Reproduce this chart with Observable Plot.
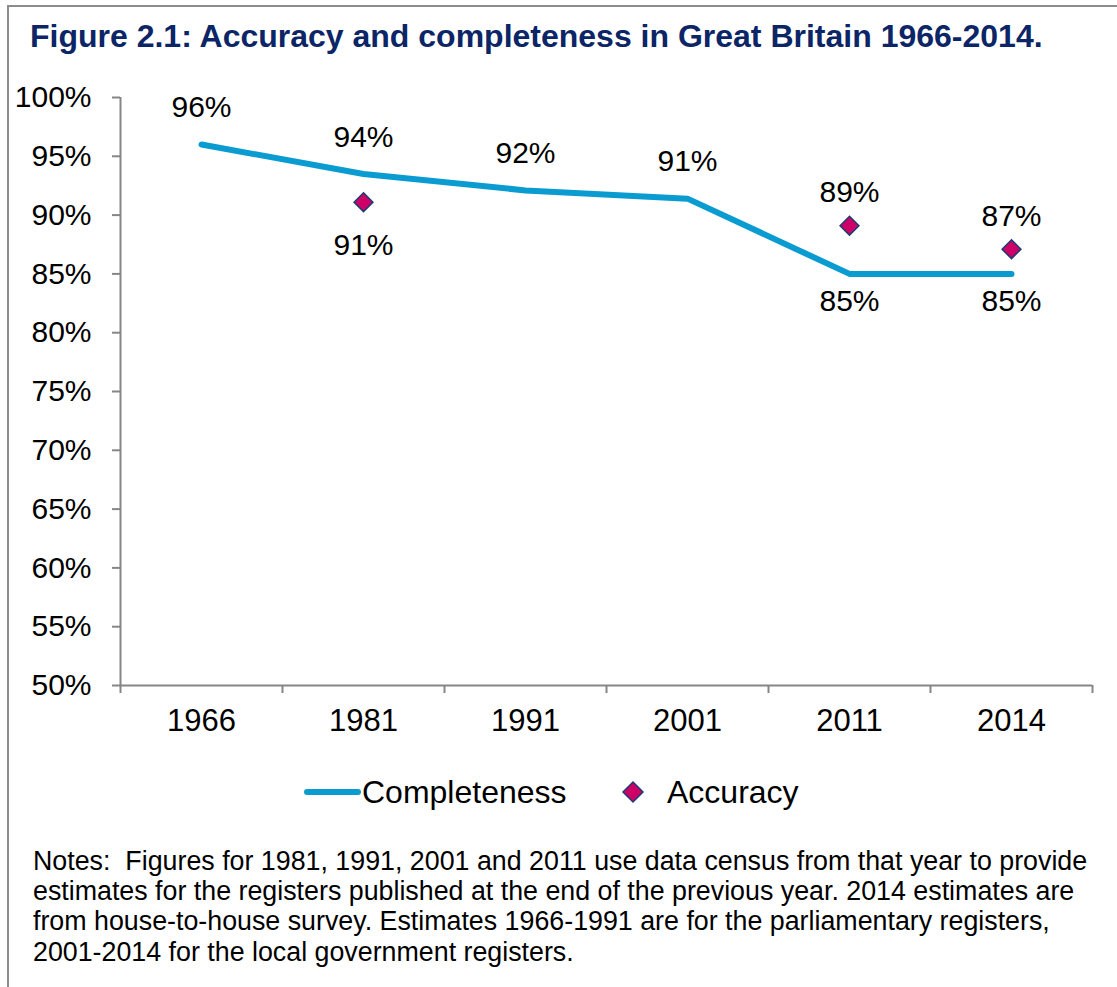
<!DOCTYPE html>
<html><head><meta charset="utf-8">
<script src="https://cdn.jsdelivr.net/npm/d3@7"></script>
<script src="https://cdn.jsdelivr.net/npm/@observablehq/plot@0.6"></script>
<style>
body{margin:0;background:#fff;font-family:"Liberation Sans",Arial,sans-serif;color:#000;}
#page{position:relative;width:1117px;height:987px;overflow:hidden;}
#frame{position:absolute;left:7px;top:5px;width:1200px;height:1100px;border-top:2px solid #8c8c8c;border-left:2px solid #8c8c8c;}
#title{position:absolute;left:30px;top:20px;font-size:32px;line-height:32px;font-weight:bold;color:#0b2566;white-space:nowrap;}
#chart{position:absolute;left:0;top:70px;}
#chart svg [aria-label^="x-axis"] path, #chart svg [aria-label^="x-axis"] line,
#chart svg [aria-label^="y-axis"] path, #chart svg [aria-label^="y-axis"] line{stroke:#868686;stroke-width:2px;}
#chart svg [aria-label^="x-axis"] text{font-size:31px;}
.leg{position:absolute;top:776px;font-size:32px;line-height:32px;white-space:nowrap;}
#notes{position:absolute;left:33px;top:846px;font-size:26.8px;line-height:30.2px;white-space:nowrap;}
</style></head>
<body><div id="page">
<div id="frame"></div>
<div id="title">Figure 2.1: Accuracy and completeness in Great Britain 1966-2014.</div>
<div id="chart"></div>
<svg class="leg" style="left:302px;top:786px" width="62" height="12"><line x1="5" y1="6" x2="56" y2="6" stroke="#0a9bd1" stroke-width="6" stroke-linecap="round"/></svg>
<div class="leg" style="left:362px">Completeness</div>
<svg class="leg" style="left:620px;top:779px" width="26" height="26"><path d="M13,3L23,13L13,23L3,13Z" fill="#cc0066" stroke="#1f3b73" stroke-width="1.5"/></svg>
<div class="leg" style="left:667px">Accuracy</div>
<div id="notes">Notes:&nbsp; Figures for 1981, 1991, 2001 and 2011 use data census from that year to provide<br>estimates for the registers published at the end of the previous year. 2014 estimates are<br>from house-to-house survey. Estimates 1966-1991 are for the parliamentary registers,<br>2001-2014 for the local government registers.</div>
</div>
<script>
const years = ["1966", "1981", "1991", "2001", "2011", "2014"];
const completeness = [96, 93.5, 92.1, 91.4, 85, 85];
const accuracy = [null, 91.1, null, null, 89.1, 87.1];
const yTicks = [50, 55, 60, 65, 70, 75, 80, 85, 90, 95, 100];

const rows = years.map((year, i) => ({i, year, completeness: completeness[i], accuracy: accuracy[i]}));
const accRows = rows.filter(d => d.accuracy != null);
const boundaries = d3.range(years.length + 1).map(k => k - 0.5);
const pct = v => Math.round(v) + "%";
const compAbove = rows.filter(d => d.accuracy == null || d.completeness >= d.accuracy);
const compBelow = rows.filter(d => !(d.accuracy == null || d.completeness >= d.accuracy));
const accAbove = accRows.filter(d => d.accuracy > d.completeness);
const accBelow = accRows.filter(d => d.accuracy <= d.completeness);

const diamond = {draw(ctx, size) {const r = Math.sqrt(size) * 0.62625; ctx.moveTo(0, -r); ctx.lineTo(r, 0); ctx.lineTo(0, r); ctx.lineTo(-r, 0); ctx.closePath();}};
const gray = "#868686";

const chart = Plot.plot({
  width: 1117, height: 690,
  marginLeft: 120, marginRight: 25, marginTop: 27, marginBottom: 75,
  style: {fontSize: "30px", fontFamily: "'Liberation Sans', Arial, sans-serif", color: "#000", background: "transparent"},
  x: {domain: [-0.5, years.length - 0.5], ticks: years.map((_, i) => i), tickFormat: i => years[i], tickSize: 0, tickPadding: 23, label: null},
  y: {domain: [50, 100], ticks: yTicks, tickFormat: d => d + "%", tickSize: 8, tickPadding: 21, label: null},
  marks: [
    Plot.ruleY([50], {stroke: gray, strokeWidth: 2}),
    Plot.ruleX([-0.5], {y1: 50, y2: 100, stroke: gray, strokeWidth: 2}),
    Plot.ruleX(boundaries, {x: d => d, y1: 50, y2: 50, insetBottom: -8, stroke: gray, strokeWidth: 2}),
    Plot.line(rows, {x: "i", y: "completeness", stroke: "#0a9bd1", strokeWidth: 6, strokeLinejoin: "round", strokeLinecap: "round"}),
    Plot.dot(accRows, {x: "i", y: "accuracy", symbol: diamond, r: 8.5, fill: "#cc0066", stroke: "#1f3b73", strokeWidth: 1.5}),
    Plot.text(compAbove, {x: "i", y: "completeness", text: d => pct(d.completeness), dy: -37, fill: "#000"}),
    Plot.text(compBelow, {x: "i", y: "completeness", text: d => pct(d.completeness), dy: 27, fill: "#000"}),
    Plot.text(accAbove, {x: "i", y: "accuracy", text: d => pct(d.accuracy), dy: -33, fill: "#000"}),
    Plot.text(accBelow, {x: "i", y: "accuracy", text: d => pct(d.accuracy), dy: 43, fill: "#000"})
  ]
});
document.getElementById("chart").appendChild(chart);
</script>
</body></html>
